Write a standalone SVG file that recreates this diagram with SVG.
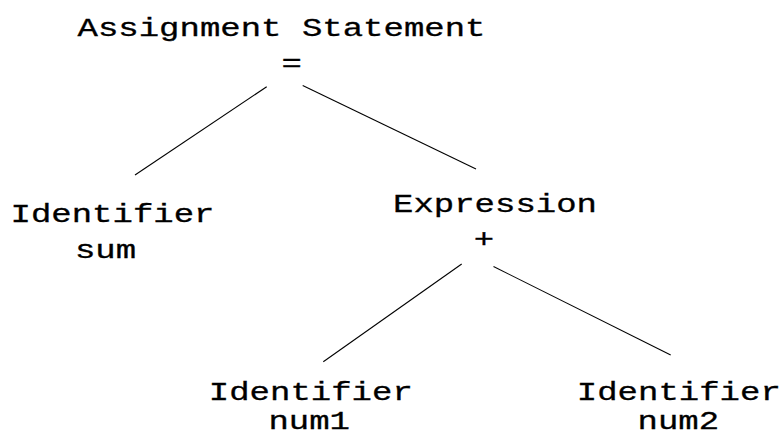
<svg xmlns="http://www.w3.org/2000/svg" width="781" height="437" viewBox="0 0 781 437">
  <style>
    .lbl { font-family: "Liberation Mono", "Courier New", monospace; font-size: 34px; fill: #000; text-anchor: middle; stroke: #000; stroke-width: 0.4; }
    .edge { stroke: #000; stroke-width: 1.1; fill: none; }
  </style>
  <rect width="781" height="437" fill="#fff"/>
  <g id="connectors">
    <line class="edge" x1="266.7" y1="86.7" x2="135" y2="175"/>
    <line class="edge" x1="302.7" y1="85.5" x2="476" y2="169"/>
    <line class="edge" x1="461.7" y1="264" x2="323.3" y2="361.7"/>
    <line class="edge" x1="493.5" y1="266.5" x2="670.7" y2="355"/>
  </g>
  <!-- labels are drawn at origin and placed by transform; the y-scale narrows the tall mono glyphs -->
  <g id="assign">
    <text class="lbl" transform="translate(281.5,36) scale(1,0.76)">Assignment Statement</text>
    <text class="lbl" transform="translate(291.7,70.5) scale(1,0.76)">=</text>
  </g>
  <g id="ident-sum">
    <text class="lbl" transform="translate(112.5,222) scale(1,0.76)">Identifier</text>
    <text class="lbl" transform="translate(105.5,258) scale(1,0.76)">sum</text>
  </g>
  <g id="expression">
    <text class="lbl" transform="translate(495,212) scale(1,0.76)">Expression</text>
    <text class="lbl" transform="translate(484,246.5) scale(1,0.76)">+</text>
  </g>
  <g id="ident-num1">
    <text class="lbl" transform="translate(310.8,399.5) scale(1,0.76)">Identifier</text>
    <text class="lbl" transform="translate(309.2,429) scale(1,0.76)">num1</text>
  </g>
  <g id="ident-num2">
    <text class="lbl" transform="translate(678.8,399.5) scale(1,0.76)">Identifier</text>
    <text class="lbl" transform="translate(678.3,429) scale(1,0.76)">num2</text>
  </g>
</svg>
